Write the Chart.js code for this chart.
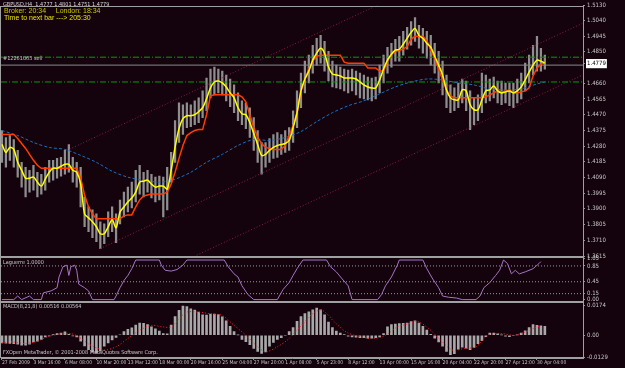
<!DOCTYPE html>
<html>
<head>
<meta charset="utf-8">
<script src="https://cdn.jsdelivr.net/npm/chart.js@4"></script>
<style>
  html, body { margin: 0; padding: 0; background: #14020c; }
  #wrap { width: 625px; height: 368px; }
</style>
</head>
<body>
<div id="wrap"><canvas id="chart" width="625" height="368"></canvas></div>
<script>
// one sample every two H4 bars, prices in pips (1/10000)
const STEP = 2;

const barHigh = [
  14374,14332,14344,14320,14254,14182,14152,14134,14164,14122,
  14110,14152,14194,14194,14206,14212,14254,14290,14212,14182,
  14152,13972,13912,13894,13870,13822,13810,13882,13912,13870,
  13954,14002,14032,14062,14134,14164,14122,14134,14110,14092,
  14098,14092,14152,14242,14434,14542,14530,14542,14530,14554,
  14572,14614,14692,14746,14758,14746,14734,14710,14686,14650,
  14602,14554,14542,14512,14452,14374,14302,14302,14326,14350,
  14362,14350,14374,14392,14494,14614,14722,14794,14830,14890,
  14932,14950,14914,14854,14794,14770,14758,14746,14740,14746,
  14734,14722,14710,14698,14692,14698,14770,14830,14878,14902,
  14926,14944,14974,14998,15034,15058,15010,14992,14974,14950,
  14902,14854,14794,14710,14650,14632,14662,14686,14674,14614,
  14572,14590,14722,14710,14686,14698,14674,14674,14662,14662,
  14662,14686,14722,14782,14830,14890,14944,14872,14830
];
const barLow = [
  14182,14152,14194,14152,14092,14032,13972,14002,14014,13972,
  13990,14014,14062,14074,14086,14098,14110,14122,14062,14032,
  13912,13792,13762,13726,13702,13660,13690,13732,13762,13696,
  13810,13852,13882,13906,13942,13990,13972,14002,13966,13942,
  13954,13852,13894,14062,14182,14302,14350,14392,14398,14410,
  14422,14452,14494,14572,14590,14602,14590,14554,14518,14482,
  14434,14410,14386,14332,14254,14182,14110,14152,14182,14206,
  14212,14230,14242,14254,14302,14392,14512,14602,14662,14722,
  14770,14782,14734,14674,14638,14632,14626,14614,14602,14614,
  14590,14572,14566,14560,14554,14566,14602,14662,14722,14758,
  14794,14794,14830,14866,14890,14914,14872,14842,14812,14770,
  14722,14662,14590,14512,14482,14494,14512,14542,14494,14380,
  14410,14434,14482,14542,14554,14572,14542,14530,14542,14524,
  14512,14542,14566,14614,14662,14710,14734,14734,14746
];
// yellow fast average
const fastMa = [
  14290,14242,14272,14260,14182,14134,14086,14086,14092,14062,
  14038,14080,14122,14146,14146,14158,14170,14170,14134,14122,
  14050,13870,13846,13822,13792,13750,13750,13792,13834,13786,
  13882,13912,13942,13966,14002,14062,14068,14074,14050,14032,
  14038,14038,14020,14134,14272,14386,14446,14464,14464,14470,
  14488,14512,14566,14632,14668,14674,14662,14638,14602,14572,
  14512,14476,14470,14422,14356,14290,14224,14230,14254,14272,
  14284,14290,14296,14314,14392,14482,14614,14686,14734,14800,
  14842,14872,14842,14758,14716,14710,14704,14692,14692,14692,
  14686,14668,14650,14638,14632,14632,14680,14746,14800,14836,
  14860,14866,14896,14932,14968,14992,14950,14932,14902,14878,
  14824,14770,14710,14620,14572,14560,14560,14620,14614,14530,
  14500,14500,14560,14614,14620,14644,14614,14602,14608,14614,
  14602,14614,14638,14680,14728,14770,14800,14794,14782
];
// red stepped line
const stopLine = [
  14350,14350,14350,14350,14326,14296,14266,14230,14194,14164,
  14146,14146,14146,14146,14146,14146,14146,14146,14146,14146,
  14086,13984,13912,13870,13840,13840,13840,13840,13840,13840,
  13840,13858,13864,13864,13912,13954,13978,13984,13990,13990,
  13990,13990,14002,14050,14122,14206,14284,14344,14362,14374,
  14380,14380,14470,14584,14590,14590,14590,14590,14590,14590,
  14590,14578,14548,14470,14392,14332,14296,14272,14266,14260,
  14260,14260,14284,14344,14404,14482,14614,14680,14746,14794,
  14824,14830,14830,14830,14830,14830,14830,14788,14782,14782,
  14782,14782,14782,14752,14752,14752,14734,14734,14794,14836,
  14854,14860,14866,14884,14926,14944,14944,14944,14920,14860,
  14812,14746,14680,14620,14584,14572,14572,14572,14572,14572,
  14572,14572,14572,14578,14590,14602,14614,14608,14614,14620,
  14602,14602,14608,14614,14632,14704,14752,14776,14782
];
// blue slow average (bar index / pips)
const slowBar = [0,8,16,24,32,40,48,56,64,72,80,88,96,104,112,120,128,136,144,152,160,168,176,184,192,200,208,216,224,232,240,248,256,264,272,276];
const slowVal = [14374,14344,14302,14272,14260,14224,14182,14128,14092,14074,14062,14080,14122,14182,14230,14284,14320,14314,14332,14368,14428,14482,14524,14554,14596,14638,14668,14686,14680,14662,14650,14626,14620,14626,14656,14668];

// regression channel (bar index / pips at both ends)
const chanBarA = [33, 50, 99];
const chanValA = [14254, 13660, 13620];
const chanBarB = [295, 295, 295];
const chanValB = [15712, 15022, 14709];

const orderPrice = 1.4770;
const bidPrice = 1.4779;
const greenLevels = [1.4818, 1.4668];

// Laguerre
const lagBar = [0,6,8,10,14,16,20,21,25,28,29,31,33,34,35,37,38,39,42,44,46,57,58,60,62,64,66,68,80,81,83,86,89,92,94,113,115,118,120,122,125,128,140,141,143,146,148,150,153,165,167,170,173,176,178,191,193,195,198,201,202,214,216,219,222,224,227,231,234,241,243,245,248,251,253,255,257,259,261,263,266,270,273,274];
const lagVal = [0,0,0.09,0,0.09,0,0,0.17,0.22,0.3,0.57,0.83,0.87,0.61,0.83,0.87,0.74,0.39,0.3,0.22,0,0,0.09,0.3,0.48,0.61,0.78,1,1,0.87,0.74,0.72,0.76,0.87,1,1,0.83,0.65,0.57,0.35,0.13,0,0,0.09,0.26,0.43,0.61,0.78,1,1,0.83,0.7,0.52,0.35,0,0,0.13,0.35,0.57,0.87,1,1,0.78,0.52,0.3,0.09,0.06,0.04,0,0,0.09,0.3,0.43,0.61,0.74,1,0.91,0.65,0.74,0.65,0.7,0.78,0.91,0.96];
const lagLevels = [0.85, 0.45, 0.15];

// MACD histogram (same samples as the bars) and signal
const macdHist = [
  -0.0045,-0.0047,-0.0048,-0.005,-0.0052,-0.0058,-0.0058,-0.0052,-0.0039,-0.0035,
  -0.0025,-0.001,-0.0004,0.0004,0.001,0.0012,0.002,0.0005,-0.0004,-0.001,
  -0.0035,-0.0063,-0.0085,-0.0098,-0.0106,-0.0092,-0.0065,-0.0045,-0.0028,-0.0013,
  0.0003,0.0022,0.0035,0.0043,0.006,0.0072,0.007,0.0062,0.005,0.0037,
  0.0024,0.001,0.0008,0.006,0.011,0.0146,0.0171,0.0169,0.0155,0.0148,
  0.0136,0.012,0.0118,0.0124,0.0125,0.0122,0.0108,0.0085,0.0052,0.0022,
  0.0002,-0.0024,-0.0038,-0.0056,-0.0078,-0.0095,-0.0107,-0.0098,-0.0064,-0.0042,
  -0.0025,-0.0015,-0.0003,0.0022,0.0045,0.0082,0.011,0.0128,0.0138,0.015,
  0.016,0.015,0.012,0.0078,0.0045,0.0024,0.0013,0.0004,-0.0005,-0.001,
  -0.0012,-0.0014,-0.0015,-0.0017,-0.0018,-0.0015,-0.001,0.001,0.0049,0.0062,
  0.0066,0.0068,0.007,0.0072,0.008,0.0085,0.0072,0.0052,0.003,0.0006,
  -0.0017,-0.004,-0.0065,-0.0095,-0.0114,-0.0109,-0.0082,-0.007,-0.0076,-0.0085,
  -0.0072,-0.005,-0.0032,-0.0009,0.0012,0.0012,0.0008,0.0002,-0.0005,-0.0009,
  -0.0003,0.0002,0.0012,0.0026,0.0045,0.0063,0.0058,0.0055,0.0052
];
const sigBar = [0,5,11,17,23,29,35,39,45,52,58,64,70,76,82,86,90,94,100,106,112,118,124,130,134,140,146,153,159,163,169,175,181,189,195,201,207,211,217,223,229,235,241,247,254,260,266,272,274];
const sigVal = [-0.0045,-0.0039,-0.0049,-0.0039,-0.001,0.0006,0.001,-0.001,-0.0058,-0.0087,-0.0068,-0.0019,0.0029,0.0058,0.0049,0.0049,0.0097,0.0136,0.0136,0.0126,0.0116,0.0058,0,-0.0068,-0.0097,-0.0068,-0.0019,0.0068,0.0136,0.0146,0.0078,0.0019,-0.0006,-0.0019,0,0.0049,0.0068,0.0083,0.0039,-0.0029,-0.0087,-0.0078,-0.0068,0,0.001,0,0.0019,0.0049,0.0056];

// axis labels
const timeLabels = ["27 Feb 2009","3 Mar 16:00","6 Mar 08:00","10 Mar 20:00","13 Mar 12:00","18 Mar 00:00","20 Mar 16:00","25 Mar 04:00","27 Mar 20:00","1 Apr 08:00","5 Apr 23:00","8 Apr 12:00","13 Apr 00:00","15 Apr 16:00","20 Apr 04:00","22 Apr 20:00","27 Apr 12:00","30 Apr 04:00"];
const priceTicks = [1.5130,1.5040,1.4945,1.4850,1.4779,1.4660,1.4565,1.4470,1.4375,1.4280,1.4185,1.4090,1.3995,1.3900,1.3805,1.3710,1.3615];
const lagTicks = [1.05, 0.85, 0.45, 0.15, 0];
const macdTicks = [0.0174, 0, -0.0129];
const macdTickText = ["0.0174", "0.00", "-0.0129"];

const BG = '#14020c';
const X_MIN = -0.5, X_MAX = 295.4;
const NARROW = '"DejaVu Sans Condensed", "Liberation Sans Narrow", "Liberation Sans"';

function pips(xs, ys) {
  return xs.map((x, i) => ({x: x, y: ys[i] / 10000}));
}
function hline(v) {
  return [{x: X_MIN, y: v}, {x: X_MAX, y: v}];
}

const sampleBar = barHigh.map((_, k) => k * STEP);
const priceBars = sampleBar.map((b, k) => ({x: b, y: [barLow[k] / 10000, barHigh[k] / 10000]}));
const histBars = sampleBar.map((b, k) => ({x: b, y: macdHist[k]}));

const datasets = [];
datasets.push({type: 'line', data: pips(sampleBar, fastMa), yAxisID: 'yMain', borderColor: '#ffff00', borderWidth: 1.5, tension: 0.3, order: 1});
datasets.push({type: 'line', data: pips(sampleBar, stopLine), yAxisID: 'yMain', borderColor: '#ff3c00', borderWidth: 1.5, tension: 0, order: 2});
datasets.push({type: 'line', data: pips(slowBar, slowVal), yAxisID: 'yMain', borderColor: '#1f6fbf', borderWidth: 1, borderDash: [3, 2], tension: 0.3, order: 3});
for (let i = 0; i < chanBarA.length; i++) {
  datasets.push({type: 'line', data: [{x: chanBarA[i], y: chanValA[i] / 10000}, {x: chanBarB[i], y: chanValB[i] / 10000}],
    yAxisID: 'yMain', borderColor: '#8c1c48', borderWidth: 1, borderDash: [1, 2], order: 6});
}
greenLevels.forEach(v => {
  datasets.push({type: 'line', data: hline(v), yAxisID: 'yMain', borderColor: '#00a000', borderWidth: 1, borderDash: [6, 2, 1, 2], order: 5});
});
datasets.push({type: 'line', data: hline(orderPrice), yAxisID: 'yMain', borderColor: '#8a8a8a', borderWidth: 1, order: 5});
datasets.push({type: 'bar', data: priceBars, yAxisID: 'yMain', backgroundColor: '#8e8e8e', barThickness: 1.6, grouped: false, order: 9});

lagLevels.forEach(v => {
  datasets.push({type: 'line', data: hline(v), yAxisID: 'yLag', borderColor: '#9a9a9a', borderWidth: 1, borderDash: [1, 2], order: 5});
});
datasets.push({type: 'line', data: pips(lagBar, lagVal.map(v => v * 10000)), yAxisID: 'yLag', borderColor: '#a574c8', borderWidth: 1, tension: 0, order: 1});

datasets.push({type: 'bar', data: histBars, yAxisID: 'yMacd', backgroundColor: '#a8a8a8', barThickness: 2, grouped: false, order: 9});
datasets.push({type: 'line', data: pips(sigBar, sigVal.map(v => v * 10000)), yAxisID: 'yMacd', borderColor: '#ff2020', borderWidth: 1, borderDash: [1, 2], tension: 0.3, order: 1});

const axisFont = {family: NARROW, size: 6};
const axisGrid = {drawOnChartArea: false, offset: false, color: '#909090', tickLength: 2};
const axisBorder = {color: '#a0a0a0'};

const decor = {
  id: 'decor',
  beforeDraw(chart) {
    const ctx = chart.ctx;
    ctx.save();
    ctx.fillStyle = BG;
    ctx.fillRect(0, 0, chart.width, chart.height);
    ctx.restore();
  },
  afterDraw(chart) {
    const ctx = chart.ctx;
    const a = chart.chartArea;
    const panes = [chart.scales.yMain, chart.scales.yLag, chart.scales.yMacd];
    ctx.save();
    ctx.strokeStyle = '#a0a0a0';
    ctx.lineWidth = 1;
    panes.forEach(s => {
      ctx.strokeRect(a.left - 0.5, Math.round(s.top) + 0.5, a.right - a.left + 1, Math.round(s.bottom - s.top) - 1);
    });
    ctx.textBaseline = 'middle';
    ctx.textAlign = 'left';
    ctx.font = '5.5px ' + NARROW;
    ctx.fillStyle = '#d8d8d8';
    ctx.fillText('GBPUSD,H4  1.4777 1.4801 1.4751 1.4779', 3, 5);
    ctx.font = '7px "Liberation Sans"';
    ctx.fillStyle = '#c8c800';
    ctx.fillText('Broker: 20:34     London: 18:34', 4, 11);
    ctx.fillStyle = '#e6e600';
    ctx.fillText('Time to next bar ---> 205:30', 4, 18);
    ctx.font = '5.5px ' + NARROW;
    ctx.fillStyle = '#c8c8c8';
    ctx.fillText('#12261065 sell', 3, 59);
    ctx.fillText('Laguerre 1.0000', 3, chart.scales.yLag.top + 6);
    ctx.fillText('MACD(8,21,8) 0.00516 0.00564', 3, chart.scales.yMacd.top + 5);
    ctx.fillText('FXOpen MetaTrader, \u00a9 2001-2008 MetaQuotes Software Corp.', 3, 353);
    ctx.restore();
  }
};

new Chart(document.getElementById('chart'), {
  data: {datasets: datasets},
  plugins: [decor],
  options: {
    responsive: false,
    devicePixelRatio: 1,
    animation: false,
    events: [],
    layout: {padding: {left: 1, top: 2, right: 0, bottom: 0}},
    elements: {point: {radius: 0}},
    plugins: {legend: {display: false}, tooltip: {enabled: false}},
    scales: {
      x: {
        type: 'linear', position: 'bottom', min: X_MIN, max: X_MAX, offset: false,
        grid: axisGrid, border: axisBorder,
        afterBuildTicks: s => { s.ticks = timeLabels.map((_, j) => ({value: j * 16})); },
        afterFit: s => { s.height = 10; },
        ticks: {autoSkip: false, maxRotation: 0, align: 'start', padding: 0, color: '#c8c8c8', font: {family: NARROW, size: 5},
          callback: (v, i) => timeLabels[i]}
      },
      yMain: {
        type: 'linear', position: 'right', stack: 'panes', stackWeight: 254,
        min: 1.3609, max: 1.5130,
        grid: axisGrid, border: axisBorder,
        afterBuildTicks: s => { s.ticks = priceTicks.map(v => ({value: v})); },
        afterFit: s => { s.width = 42; },
        ticks: {autoSkip: false, padding: 2, font: axisFont,
          color: c => (c.tick && c.tick.value === bidPrice) ? '#000000' : '#c8c8c8',
          showLabelBackdrop: c => !!(c.tick && c.tick.value === bidPrice),
          backdropColor: '#ffffff', backdropPadding: 1,
          callback: v => v.toFixed(4)}
      },
      yLag: {
        type: 'linear', position: 'right', stack: 'panes', stackWeight: 45,
        min: -0.05, max: 1.075,
        grid: axisGrid, border: axisBorder,
        afterBuildTicks: s => { s.ticks = lagTicks.map(v => ({value: v})); },
        afterFit: s => { s.width = 42; },
        ticks: {autoSkip: false, padding: 2, font: axisFont, color: '#c8c8c8', callback: v => v.toFixed(2)}
      },
      yMacd: {
        type: 'linear', position: 'right', stack: 'panes', stackWeight: 57,
        min: -0.0134, max: 0.0198,
        grid: axisGrid, border: axisBorder,
        afterBuildTicks: s => { s.ticks = macdTicks.map(v => ({value: v})); },
        afterFit: s => { s.width = 42; },
        ticks: {autoSkip: false, padding: 2, font: axisFont, color: '#c8c8c8', callback: (v, i) => macdTickText[i]}
      }
    }
  }
});
</script>
</body>
</html>
